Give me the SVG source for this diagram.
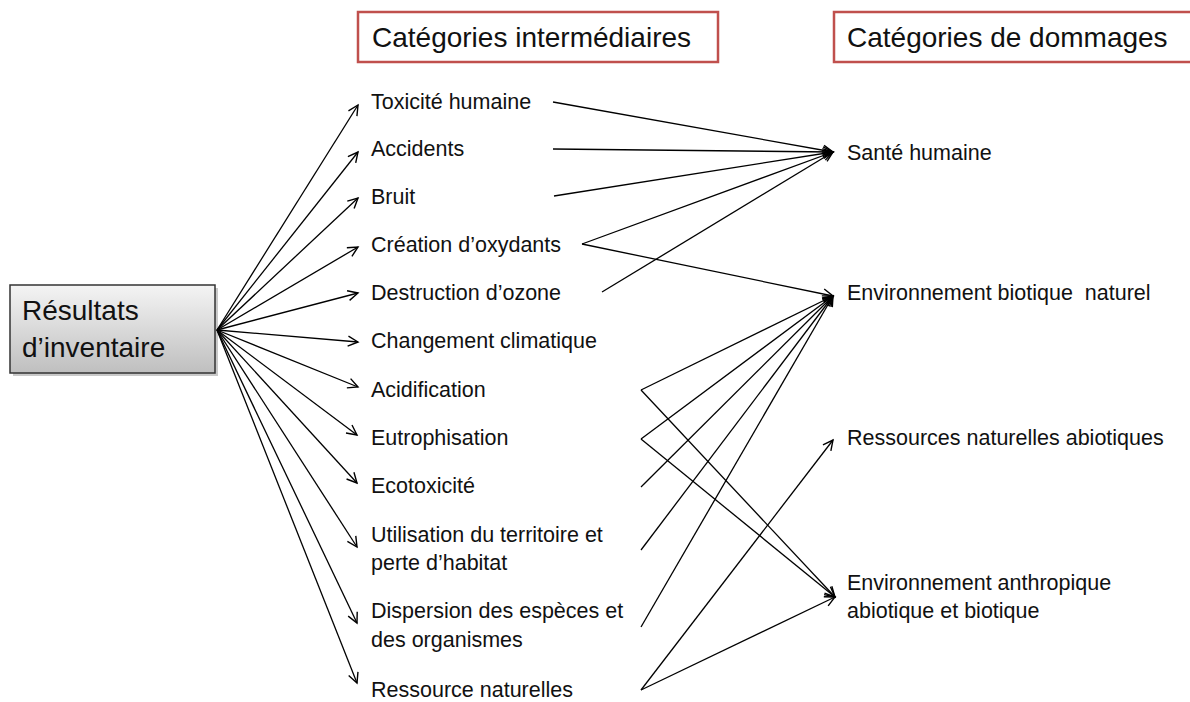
<svg xmlns="http://www.w3.org/2000/svg" width="1190" height="702" viewBox="0 0 1190 702">
<defs>
<marker id="arr" markerUnits="userSpaceOnUse" markerWidth="14" markerHeight="12" refX="11" refY="6" orient="auto">
<path d="M1,1 L11,6 L1,11" fill="none" stroke="#000" stroke-width="1.4"/>
</marker>
<linearGradient id="boxg" x1="0" y1="0" x2="0" y2="1">
<stop offset="0" stop-color="#f4f4f4"/>
<stop offset="1" stop-color="#bfbfbf"/>
</linearGradient>
<style>
.t{font-family:"Liberation Sans",Arial,sans-serif;font-size:21.5px;fill:#111}
.h{font-family:"Liberation Sans",Arial,sans-serif;font-size:28px;fill:#111}
.hb{fill:#fff;stroke:#c0504d;stroke-width:2.5}
.c line{stroke:#000;stroke-width:1.3;marker-end:url(#arr)}
.c line.n{marker-end:none}
</style>
</defs>
<rect width="1190" height="702" fill="#fff"/>

<g id="header-intermediaires">
<rect class="hb" x="358" y="12" width="360" height="50"/>
<text class="h" x="372" y="47">Catégories intermédiaires</text>
</g>
<g id="header-dommages">
<rect class="hb" x="834" y="12" width="360" height="50"/>
<text class="h" x="847" y="47">Catégories de dommages</text>
</g>

<g id="resultats">
<rect x="13" y="288" width="205" height="88" fill="#888" opacity="0.45"/>
<rect x="10" y="285" width="205" height="88" fill="url(#boxg)" stroke="#333" stroke-width="1.5"/>
<text class="h" x="22" y="320">Résultats</text>
<text class="h" x="22" y="357">d’inventaire</text>
</g>

<g id="n-toxicite"><text class="t" x="371" y="109">Toxicité humaine</text></g>
<g id="n-accidents"><text class="t" x="371" y="156">Accidents</text></g>
<g id="n-bruit"><text class="t" x="371" y="204">Bruit</text></g>
<g id="n-creation"><text class="t" x="371" y="252">Création d’oxydants</text></g>
<g id="n-destruction"><text class="t" x="371" y="300">Destruction d’ozone</text></g>
<g id="n-changement"><text class="t" x="371" y="348">Changement climatique</text></g>
<g id="n-acidification"><text class="t" x="371" y="397">Acidification</text></g>
<g id="n-eutrophisation"><text class="t" x="371" y="445">Eutrophisation</text></g>
<g id="n-ecotoxicite"><text class="t" x="371" y="493">Ecotoxicité</text></g>
<g id="n-utilisation"><text class="t" x="371" y="542">Utilisation du territoire et</text><text class="t" x="371" y="570">perte d’habitat</text></g>
<g id="n-dispersion"><text class="t" x="371" y="618">Dispersion des espèces et</text><text class="t" x="371" y="647">des organismes</text></g>
<g id="n-ressource"><text class="t" x="371" y="697">Ressource naturelles</text></g>

<g id="d-sante"><text class="t" x="847" y="160">Santé humaine</text></g>
<g id="d-envbio"><text class="t" x="847" y="300" xml:space="preserve">Environnement biotique  naturel</text></g>
<g id="d-ressabio"><text class="t" x="847" y="445">Ressources naturelles abiotiques</text></g>
<g id="d-envanth"><text class="t" x="847" y="590">Environnement anthropique</text><text class="t" x="847" y="618">abiotique et biotique</text></g>

<g id="connectors" class="c">
<line x1="217" y1="330" x2="358" y2="105"/>
<line x1="217" y1="330" x2="358" y2="152"/>
<line x1="217" y1="330" x2="358" y2="198"/>
<line x1="217" y1="330" x2="358" y2="247"/>
<line x1="217" y1="330" x2="358" y2="293"/>
<line x1="217" y1="330" x2="358" y2="342"/>
<line x1="217" y1="330" x2="358" y2="387"/>
<line x1="217" y1="330" x2="357" y2="435"/>
<line x1="217" y1="330" x2="357" y2="483"/>
<line x1="217" y1="330" x2="357" y2="547"/>
<line x1="217" y1="330" x2="357" y2="623"/>
<line x1="217" y1="330" x2="357" y2="683"/>

<line x1="553" y1="102" x2="833" y2="152"/>
<line x1="553" y1="149" x2="833" y2="152"/>
<line x1="554" y1="196" x2="833" y2="152"/>
<line x1="582" y1="244" x2="833" y2="152"/>
<line x1="602" y1="292" x2="833" y2="152"/>

<line x1="582" y1="244" x2="833" y2="296"/>
<line x1="641" y1="390" x2="833" y2="296"/>
<line x1="641" y1="439" x2="833" y2="296"/>
<line x1="641" y1="487" x2="833" y2="296"/>
<line x1="641" y1="550" x2="833" y2="296"/>
<line x1="641" y1="627" x2="833" y2="296"/>

<line x1="641" y1="690" x2="833" y2="440"/>

<line x1="641" y1="390" x2="835" y2="597"/>
<line x1="641" y1="439" x2="835" y2="597"/>
<line x1="641" y1="690" x2="835" y2="597"/>
</g>
</svg>
